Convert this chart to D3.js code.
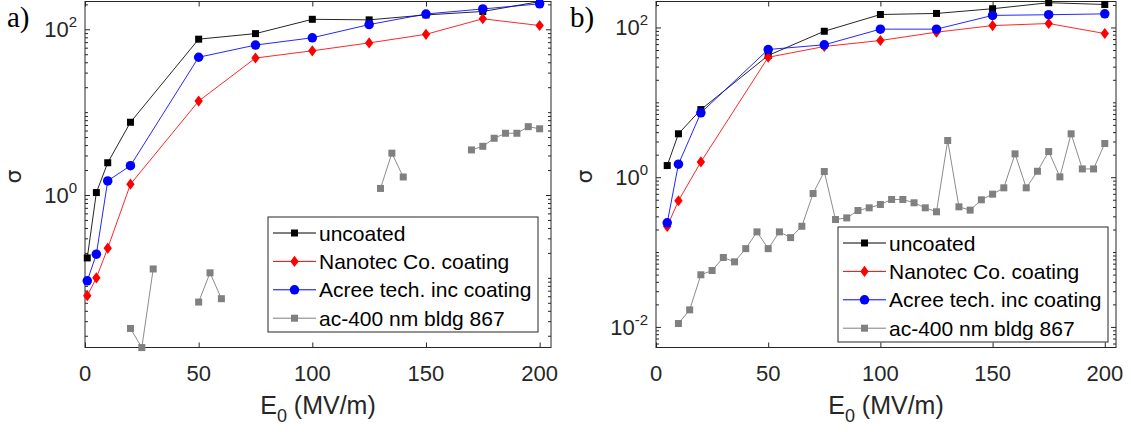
<!DOCTYPE html>
<html lang="en">
<head>
<meta charset="UTF-8">
<title>Sigma vs E0</title>
<script src="https://d3js.org/d3.v7.min.js"></script>
<style>
    body { margin: 0; background: #fff; }
    svg { display: block; font-family: "Liberation Sans", Arial, sans-serif; }
    .axis path { display: none; }
    .axis line { stroke: #262626; }
    .frame { fill: none; stroke: #262626; stroke-width: 1; }
    .tick-label { fill: #262626; font-size: 22px; }
    .legend-box { fill: #fff; stroke: #262626; stroke-width: 1; }
    .legend-text { fill: #000; font-size: 21px; }
</style>
</head>
<body>
<svg width="1131" height="432"></svg>
<script>
    // ---- data ----
    const xTicks = [0, 50, 100, 150, 200];
    const seriesNames = ["uncoated", "Nanotec Co. coating", "Acree tech. inc coating", "ac-400 nm bldg 867"];

    // panel a)
    const aE = [1, 5, 10, 20, 50, 75, 100, 125, 150, 175, 200];
    const aUncoated = [0.174, 1.07, 2.45, 7.55, 76, 88.7, 132, 130, 149, 164, 216];
    const aNanotec = [0.061, 0.10, 0.228, 1.35, 13.6, 45, 55, 68.5, 87, 134, 111];
    const aAcree = [0.092, 0.193, 1.48, 2.26, 46, 64.5, 79, 114, 153, 176, 203];
    const aGrayE = [20, 25, 30, 35, 40, 45, 50, 55, 60, 65, 70, 75, 80, 85, 90, 95, 100, 105, 110, 115, 120, 125,
        130, 135, 140, 145, 150, 155, 160, 165, 170, 175, 180, 185, 190, 195, 200];
    const aGray = [0.0245, 0.0144, 0.128, null, null, null, 0.051, 0.115, 0.056, null, null, null, null, null,
        null, null, null, null, null, null, null, null, 1.2, 3.2, 1.65, null, null, null, null, null,
        3.5, 3.87, 4.84, 5.56, 5.56, 6.68, 6.3];

    // panel b)
    const bE = [5, 10, 20, 50, 75, 100, 125, 150, 175, 200];
    const bUncoated = [1.43, 3.8, 8.0, 42.3, 89, 149, 154, 178, 214, 203];
    const bNanotec = [0.22, 0.484, 1.6, 40, 55.7, 67, 86.5, 106, 113, 83];
    const bAcree = [0.246, 1.49, 7.25, 50.8, 58.7, 95, 95, 145, 148, 152];
    const bGrayE = [10, 15, 20, 25, 30, 35, 40, 45, 50, 55, 60, 65, 70, 75, 80, 85, 90, 95, 100, 105, 110, 115,
        120, 125, 130, 135, 140, 145, 150, 155, 160, 165, 170, 175, 180, 185, 190, 195, 200];
    const bGray = [0.0111, 0.0169, 0.0497, 0.0567, 0.0846, 0.074, 0.111, 0.186, 0.111, 0.186, 0.156, 0.221,
        0.605, 1.19, 0.272, 0.286, 0.359, 0.39, 0.432, 0.504, 0.504, 0.455, 0.39, 0.345, 3.09, 0.402, 0.363,
        0.499, 0.593, 0.721, 2.05, 0.721, 1.2, 2.2, 1.01, 3.8, 1.29, 1.29, 2.82];

    const svg = d3.select("svg");

    const styles = [
        { color: "#000000", marker: "square", size: 7 },
        { color: "#ff0000", marker: "diamond", size: 9 },
        { color: "#0000ff", marker: "circle", size: 9.5 },
        { color: "#808080", marker: "square", size: 7 }
    ];

    function drawMarker(g, style, cx, cy) {
        const s = style.size;
        if (style.marker === "square") {
            g.append("rect").attr("x", cx - s / 2).attr("y", cy - s / 2)
                .attr("width", s).attr("height", s).attr("fill", style.color);
        } else if (style.marker === "circle") {
            g.append("circle").attr("cx", cx).attr("cy", cy).attr("r", s / 2).attr("fill", style.color);
        } else {
            const h = s * 0.62, v = s * 0.62;
            g.append("path")
                .attr("d", `M${cx},${cy - v}L${cx + h * 0.75},${cy}L${cx},${cy + v}L${cx - h * 0.75},${cy}Z`)
                .attr("fill", style.color);
        }
    }

    function drawPanel(p) {
        const x = d3.scaleLinear().domain([0, 205]).range([p.left, p.right]);
        const y = d3.scaleLog().domain([Math.pow(10, p.logMin), Math.pow(10, p.logMax)]).range([p.bottom, p.top]);
        const g = svg.append("g");

        // ticks
        const major = [], minor = [];
        for (let k = Math.floor(p.logMin); k <= Math.ceil(p.logMax); k++) {
            for (let m = 1; m <= 9; m++) {
                const v = m * Math.pow(10, k);
                const lv = Math.log10(v);
                if (lv < p.logMin || lv > p.logMax) continue;
                if (m === 1 && k % 2 === 0) major.push(v); else minor.push(v);
            }
        }
        g.append("g").attr("class", "axis").attr("transform", `translate(0,${p.bottom})`)
            .call(d3.axisBottom(x).tickValues(xTicks).tickSizeInner(-5).tickSizeOuter(0).tickFormat(""));
        g.append("g").attr("class", "axis").attr("transform", `translate(0,${p.top})`)
            .call(d3.axisTop(x).tickValues(xTicks).tickSizeInner(-5).tickSizeOuter(0).tickFormat(""));
        [[p.left, d3.axisLeft], [p.right, d3.axisRight]].forEach(([pos, ax]) => {
            g.append("g").attr("class", "axis").attr("transform", `translate(${pos},0)`)
                .call(ax(y).tickValues(major).tickSizeInner(-5).tickSizeOuter(0).tickFormat(""));
            g.append("g").attr("class", "axis").attr("transform", `translate(${pos},0)`)
                .call(ax(y).tickValues(minor).tickSizeInner(-3).tickSizeOuter(0).tickFormat(""));
        });

        // x tick labels
        g.selectAll(".xl").data(xTicks).join("text")
            .attr("class", "tick-label")
            .attr("x", d => x(d)).attr("y", p.bottom + 33)
            .attr("text-anchor", "middle").text(d => d);

        // y tick labels with superscript
        major.forEach(v => {
            const t = g.append("text").attr("class", "tick-label")
                .attr("x", p.left - 8).attr("y", y(v) + 8).attr("text-anchor", "end");
            t.append("tspan").text("10");
            t.append("tspan").attr("font-size", "15px").attr("dy", -10).text(Math.round(Math.log10(v)));
        });

        // frame
        g.append("rect").attr("class", "frame")
            .attr("x", p.left).attr("y", p.top)
            .attr("width", p.right - p.left).attr("height", p.bottom - p.top);

        // series
        p.series.forEach((s, i) => {
            const st = styles[i];
            const pts = s.E.map((e, j) => [e, s.v[j]]);
            const line = d3.line().defined(d => d[1] != null).x(d => x(d[0])).y(d => y(d[1]));
            g.append("path").attr("d", line(pts)).attr("fill", "none")
                .attr("stroke", st.color).attr("stroke-width", 1)
                .attr("stroke-opacity", i === 3 ? 0.9 : 0.85);
            const mg = g.append("g");
            pts.filter(d => d[1] != null).forEach(d => drawMarker(mg, st, x(d[0]), y(d[1])));
        });

        // axis labels
        const xl = g.append("text").attr("x", (p.left + p.right) / 2).attr("y", p.bottom + 66)
            .attr("text-anchor", "middle").attr("fill", "#262626").attr("font-size", "25px");
        xl.append("tspan").text("E");
        xl.append("tspan").attr("font-size", "18px").attr("dy", 8).text("0");
        xl.append("tspan").attr("dy", -8).text(" (MV/m)");

        g.append("text")
            .attr("transform", `translate(${p.left - 64},${(p.top + p.bottom) / 2 + 2}) rotate(-90)`)
            .attr("text-anchor", "middle").attr("fill", "#262626")
            .attr("font-size", "22px").attr("font-family", "'DejaVu Sans', sans-serif").text("σ");

        // panel tag
        g.append("text").attr("x", p.tagX).attr("y", 27)
            .attr("font-family", "'Liberation Serif', 'Times New Roman', serif")
            .attr("font-size", "29px").attr("fill", "#000").text(p.tag);

        // legend
        const lg = g.append("g").attr("transform", `translate(${p.legX},${p.legY})`);
        lg.append("rect").attr("class", "legend-box").attr("width", 270).attr("height", 115);
        seriesNames.forEach((name, i) => {
            const cy = 16 + i * 28.4;
            lg.append("line").attr("x1", 5).attr("x2", 48).attr("y1", cy).attr("y2", cy)
                .attr("stroke", styles[i].color).attr("stroke-width", 1);
            drawMarker(lg, styles[i], 26.5, cy);
            lg.append("text").attr("class", "legend-text").attr("x", 51).attr("y", cy).attr("dy", "0.36em").text(name);
        });
    }

    drawPanel({
        left: 85, right: 551, top: 1.5, bottom: 347.5, logMin: -1.8407, logMax: 2.3355,
        tag: "a)", tagX: 7, legX: 268, legY: 217,
        series: [
            { E: aE, v: aUncoated }, { E: aE, v: aNanotec }, { E: aE, v: aAcree }, { E: aGrayE, v: aGray }
        ]
    });
    drawPanel({
        left: 656, right: 1116, top: 1.5, bottom: 347.5, logMin: -2.275, logMax: 2.347,
        tag: "b)", tagX: 570, legX: 838, legY: 227,
        series: [
            { E: bE, v: bUncoated }, { E: bE, v: bNanotec }, { E: bE, v: bAcree }, { E: bGrayE, v: bGray }
        ]
    });
</script>
</body>
</html>
